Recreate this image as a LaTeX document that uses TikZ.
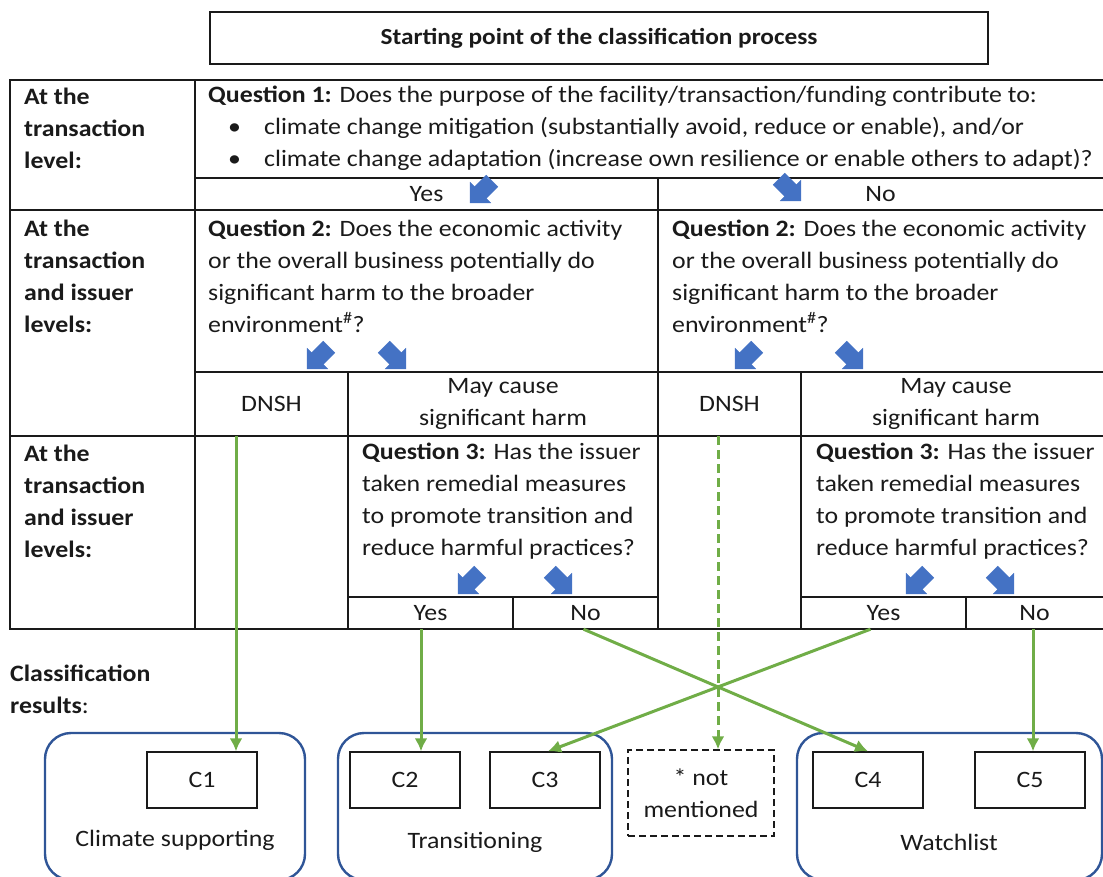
\documentclass[tikz,border=0pt]{standalone}
\usepackage{fontspec}
\setmainfont{Carlito}[FakeStretch=1.1]
\usetikzlibrary{arrows.meta,positioning,shapes.arrows}
\definecolor{Ink}{HTML}{1A1A1A}
\definecolor{FlowGreen}{HTML}{70AD47}
\definecolor{PointBlue}{HTML}{4472C4}
\definecolor{GroupBlue}{HTML}{2F5597}
\tikzset{
 txt/.style={inner sep=0pt, font=\fontsize{23.5}{32}\selectfont, text=Ink},
 rowlabel/.style={txt, anchor=west, align=left, font=\fontsize{23.5}{32}\selectfont\bfseries},
 question/.style={txt, anchor=west, align=left},
 cell/.style={txt, align=center},
 grid/.style={line width=1.6pt, draw=Ink},
 pointer/.style={single arrow, fill=PointBlue, draw=PointBlue, minimum height=31pt, minimum width=29pt, single arrow head extend=6pt, inner sep=7.5pt},
 flow/.style={-{Latex[length=13pt,width=13pt]}, line width=3pt, draw=FlowGreen},
 group/.style={draw=GroupBlue, line width=2.4pt, rounded corners=26pt},
 classbox/.style={txt, draw=Ink, line width=1.4pt, minimum width=110pt, minimum height=56pt},
 titlebox/.style={txt, draw=Ink, line width=1.4pt, minimum width=778pt, minimum height=52pt, font=\fontsize{23}{26}\selectfont\bfseries}
}
\begin{document}
\begin{tikzpicture}[x=1pt,y=-1pt]
\useasboundingbox (0,0) rectangle (1103,877);
\node[titlebox] (start) at (599,38) {Starting point of the classification process};
\draw[grid] (1103,80) -- (10,80) -- (10,629) -- (1103,629);
\draw[grid] (195,178) -- (1103,178);
\draw[grid] (10,210) -- (1103,210);
\draw[grid] (195,372) -- (1103,372);
\draw[grid] (10,436) -- (1103,436);
\draw[grid] (348,597) -- (658,597) (801,597) -- (1103,597);
\draw[grid] (195,80) -- (195,629);
\draw[grid] (658,178) -- (658,629);
\draw[grid] (348,372) -- (348,629);
\draw[grid] (801,372) -- (801,629);
\draw[grid] (513,597) -- (513,629);
\draw[grid] (966,597) -- (966,629);
\node[rowlabel] (lvl1) at (24,128) {At the\\transaction\\level:};
\node[rowlabel] (lvl2) at (24,276) {At the\\transaction\\and issuer\\levels:};
\node[rowlabel] (lvl3) at (24,501) {At the\\transaction\\and issuer\\levels:};
\node[question] (q1) at (208,128) {\textbf{Question 1:} Does the purpose of the facility/transaction/funding contribute to:\\
\makebox[56pt][l]{\hspace*{20pt}\textbullet}climate change mitigation (substantially avoid, reduce or enable), and/or\\
\makebox[56pt][l]{\hspace*{20pt}\textbullet}climate change adaptation (increase own resilience or enable others to adapt)?};
\node[cell, minimum width=463pt, minimum height=32pt] (yes1) at (426.5,194) {Yes};
\node[cell, minimum width=445pt, minimum height=32pt] (no1) at (880.5,194) {No};
\node[question] (q2l) at (208,276) {\textbf{Question 2:} Does the economic activity\\or the overall business potentially do\\significant harm to the broader\\environment\textsuperscript{\#}?};
\node[question] (q2r) at (672,276) {\textbf{Question 2:} Does the economic activity\\or the overall business potentially do\\significant harm to the broader\\environment\textsuperscript{\#}?};
\node[cell, minimum width=153pt, minimum height=64pt] (dnshL) at (271.5,404) {DNSH};
\node[cell, minimum width=310pt, minimum height=64pt] (harmL) at (503,404) {May cause\\significant harm};
\node[cell, minimum width=143pt, minimum height=64pt] (dnshR) at (729.5,404) {DNSH};
\node[cell, minimum width=302pt, minimum height=64pt] (harmR) at (956,404) {May cause\\significant harm};
\node[question] (q3l) at (362,501) {\textbf{Question 3:} Has the issuer\\taken remedial measures\\to promote transition and\\reduce harmful practices?};
\node[question] (q3r) at (816,501) {\textbf{Question 3:} Has the issuer\\taken remedial measures\\to promote transition and\\reduce harmful practices?};
\node[cell, minimum width=165pt, minimum height=32pt] (yesL) at (430.5,613) {Yes};
\node[cell, minimum width=145pt, minimum height=32pt] (noL) at (585.5,613) {No};
\node[cell, minimum width=165pt, minimum height=32pt] (yesR) at (883.5,613) {Yes};
\node[cell, minimum width=137pt, minimum height=32pt] (noR) at (1034.5,613) {No};
\node[pointer, rotate=-135] (p1a) at (484,189) {};
\node[pointer, rotate=-45] (p1b) at (787,187) {};
\node[pointer, rotate=-135] (p2a) at (321,355) {};
\node[pointer, rotate=-45] (p2b) at (392,355) {};
\node[pointer, rotate=-135] (p2c) at (749,355) {};
\node[pointer, rotate=-45] (p2d) at (849,355) {};
\node[pointer, rotate=-135] (p3a) at (472,580) {};
\node[pointer, rotate=-45] (p3b) at (558,580) {};
\node[pointer, rotate=-135] (p3c) at (920,580) {};
\node[pointer, rotate=-45] (p3d) at (1000,580) {};
\node[rowlabel] (results) at (10,689) {Classification\\results\mdseries:};
\node[group, minimum width=260pt, minimum height=147pt] (supporting) at (175,806.5) {};
\node[group, minimum width=274pt, minimum height=147pt] (transitioning) at (475,806.5) {};
\node[group, minimum width=305pt, minimum height=147pt] (watchlist) at (949.5,806.5) {};
\node[txt, draw=Ink, line width=1.4pt, dashed, dash pattern=on 7pt off 4pt, minimum width=146pt, minimum height=86pt, align=center] (notmentioned) at (701,793) {* not\\mentioned};
\node[classbox] (c1) at (202,780) {C1};
\node[classbox] (c2) at (405,780) {C2};
\node[classbox] (c3) at (545,780) {C3};
\node[classbox] (c4) at (868,780) {C4};
\node[classbox] (c5) at (1030,780) {C5};
\node[txt] (supportingtxt) at (175,840) {Climate supporting};
\node[txt] (transitioningtxt) at (475,842) {Transitioning};
\node[txt] (watchlisttxt) at (949,842) {Watchlist};
\draw[flow] ([xshift=-35.5pt]dnshL.south) -- ([xshift=34pt]c1.north);
\draw[flow] ([xshift=-9.5pt]yesL.south) -- ([xshift=16pt]c2.north);
\draw[flow] ([xshift=-2pt]noL.south) -- (c4.north);
\draw[flow] ([xshift=-13pt]yesR.south) -- ([xshift=3pt]c3.north);
\draw[flow, dashed, dash pattern=on 9pt off 5pt] ([xshift=-11.5pt]dnshR.south) -- ([xshift=17pt]notmentioned.north);
\draw[flow] ([xshift=-1.5pt]noR.south) -- ([xshift=3pt]c5.north);
\end{tikzpicture}
\end{document}
